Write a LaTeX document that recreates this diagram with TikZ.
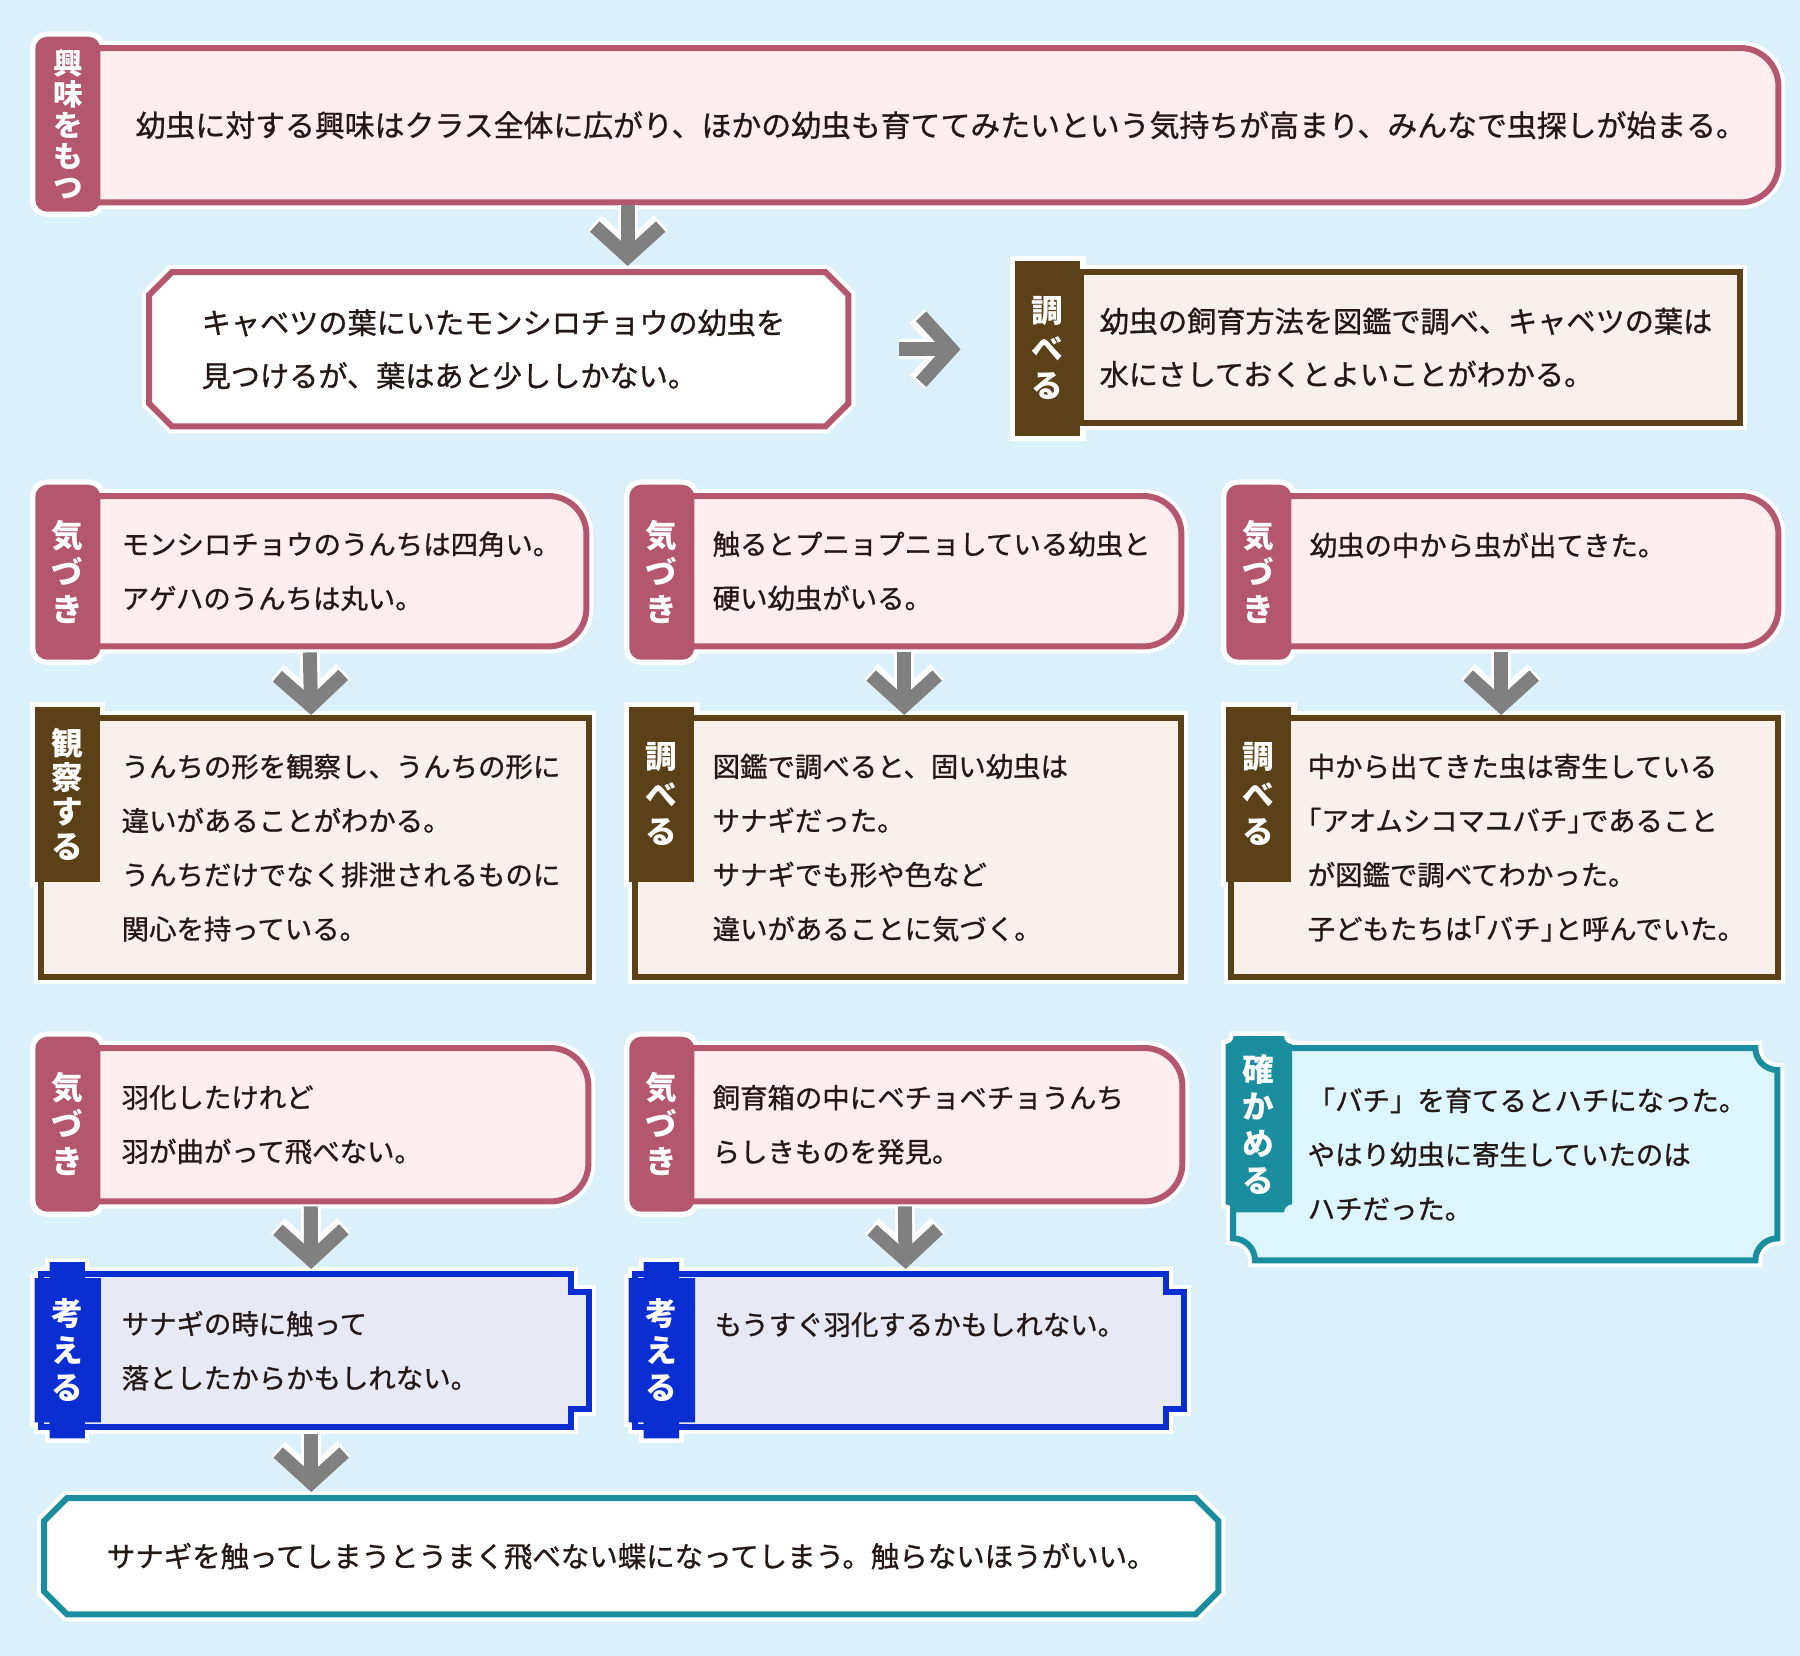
\documentclass[tikz,border=0pt]{standalone}
\usepackage{fontspec}
\setmainfont{Noto Sans CJK JP}[UprightFeatures={FakeBold=0.9}]
\usetikzlibrary{arrows.meta, calc, positioning}

\definecolor{bgblue}{HTML}{DAF0FB}
\definecolor{kpink}{HTML}{B5566F}
\definecolor{kpinkfill}{HTML}{FFEDEF}
\definecolor{kbrown}{HTML}{5C4017}
\definecolor{kbrownfill}{HTML}{F8F1EB}
\definecolor{kblue}{HTML}{0A2ED2}
\definecolor{kbluefill}{HTML}{E7EAF5}
\definecolor{kteal}{HTML}{1A8E9F}
\definecolor{ktealfill}{HTML}{DDF5FC}
\definecolor{arrowgray}{HTML}{808080}
\definecolor{ink}{HTML}{231815}

\pgfdeclarelayer{back}
\pgfdeclarelayer{mid}
\pgfsetlayers{back,mid,main}

% half-width brackets
\newcommand{\hw}[1]{{\addfontfeatures{RawFeature=+halt}#1}}

\tikzset{
  box/.style={anchor=north west, inner ysep=0pt, align=left, text=ink, font=\fontsize{7.8pt}{15.4pt}\selectfont},
  topfont/.style={font=\fontsize{8.3pt}{15.1pt}\selectfont},
  tab/.style={anchor=north east, minimum width=0.65cm, minimum height=1.75cm, inner sep=0pt, align=center, text=white, font=\bfseries\fontsize{9pt}{10.6pt}\selectfont},
  pinktab/.style={tab, fill=kpink, rounded corners=0.12cm},
  browntab/.style={tab, fill=kbrown},
  rim/.style={draw=white, line width=0.09cm},
  frame/.style={line width=0.06cm, line join=miter, preaction={draw=white, line width=0.14cm}},
  pinkframe/.style={frame, draw=kpink, fill=kpinkfill},
  brownframe/.style={frame, draw=kbrown, fill=kbrownfill},
  blueframe/.style={frame, draw=kblue, fill=kbluefill},
  tealframe/.style={frame, draw=kteal, fill=ktealfill},
  bigarrow/.style={draw=arrowgray, line width=0.14cm, -{Straight Barb[sharp, length=0.3cm, width=0.66cm]},
    preaction={draw=white, line width=0.2cm, -{Straight Barb[sharp, length=0.3cm, width=0.66cm]}}}
}

\begin{document}
\begin{tikzpicture}
  \useasboundingbox (0,0) rectangle (18,-16.56);

  % Interest
  \node[box, font=\fontsize{8.5pt}{15pt}\selectfont, minimum width=16.76cm, minimum height=1.53cm, inner xsep=0.34cm, text width=16.08cm] (kyomi) at (1.01,-0.48) {幼虫に対する興味はクラス全体に広がり、ほかの幼虫も育ててみたいという気持ちが高まり、みんなで虫探しが始まる。};
  \node[pinktab, font=\bfseries\fontsize{8.4pt}{8.8pt}\selectfont] (kyomitab) at ([yshift=0.12cm]kyomi.north west) {興\\味\\を\\も\\つ};

  % Found on cabbage
  \node[box, topfont, minimum width=6.98cm, minimum height=1.53cm, inner xsep=0.52cm, text width=5.94cm] (hakken) at (1.49,-2.72) {キャベツの葉にいたモンシロチョウの幼虫を\\見つけるが、葉はあと少ししかない。};

  % Look up breeding
  \node[box, topfont, minimum width=6.58cm, minimum height=1.5cm, inner xsep=0.18cm, text width=6.22cm] (shirabe0) at (10.81,-2.72) {幼虫の飼育方法を図鑑で調べ、キャベツの葉は\\水にさしておくとよいことがわかる。};
  \node[browntab] (shirabe0tab) at ([yshift=0.12cm]shirabe0.north west) {調\\べ\\る};

  % Second row: notices
  \node[box, minimum width=4.84cm, minimum height=1.49cm, inner xsep=0.2cm, text width=4.44cm] (kiduki1) at (1.01,-4.96) {モンシロチョウのうんちは四角い。\\アゲハのうんちは丸い。};
  \node[pinktab] (kiduki1tab) at ([yshift=0.12cm]kiduki1.north west) {気\\づ\\き};
  \node[box, minimum width=4.85cm, minimum height=1.49cm, inner xsep=0.17cm, text width=4.51cm] (kiduki2) at (6.95,-4.96) {触るとプニョプニョしている幼虫と\\硬い幼虫がいる。};
  \node[pinktab] (kiduki2tab) at ([yshift=0.12cm]kiduki2.north west) {気\\づ\\き};
  \node[box, minimum width=4.85cm, minimum height=1.49cm, inner xsep=0.17cm, text width=4.51cm] (kiduki3) at (12.92,-4.96) {幼虫の中から虫が出てきた。\\~};
  \node[pinktab] (kiduki3tab) at ([yshift=0.12cm]kiduki3.north west) {気\\づ\\き};

  % Third row: observe / look up
  \node[box, minimum width=4.87cm, minimum height=2.58cm, inner xsep=0.2cm, text width=4.47cm] (kansatsu) at (1.01,-7.18) {うんちの形を観察し、うんちの形に\\違いがあることがわかる。\\うんちだけでなく排泄されるものに\\関心を持っている。};
  \node[browntab, font=\bfseries\fontsize{9pt}{9.8pt}\selectfont] (kansatsutab) at ([yshift=0.12cm]kansatsu.north west) {観\\察\\す\\る};
  \node[box, minimum width=4.85cm, minimum height=2.58cm, inner xsep=0.17cm, text width=4.51cm] (shirabe1) at (6.95,-7.18) {図鑑で調べると、固い幼虫は\\サナギだった。\\サナギでも形や色など\\違いがあることに気づく。};
  \node[browntab] (shirabe1tab) at ([yshift=0.12cm]shirabe1.north west) {調\\べ\\る};
  \node[box, minimum width=4.85cm, minimum height=2.58cm, inner xsep=0.15cm, text width=4.55cm] (shirabe2) at (12.92,-7.18) {中から出てきた虫は寄生している\\\hw{「}アオムシコマユバチ\hw{」}であること\\が図鑑で調べてわかった。\\子どもたちは\hw{「}バチ\hw{」}と呼んでいた。};
  \node[browntab] (shirabe2tab) at ([yshift=0.12cm]shirabe2.north west) {調\\べ\\る};

  % Fourth row
  \node[box, minimum width=4.86cm, minimum height=1.52cm, inner xsep=0.2cm, text width=4.46cm] (kiduki4) at (1.01,-10.48) {羽化したけれど\\羽が曲がって飛べない。};
  \node[pinktab] (kiduki4tab) at ([yshift=0.12cm]kiduki4.north west) {気\\づ\\き};
  \node[box, minimum width=4.86cm, minimum height=1.52cm, inner xsep=0.17cm, text width=4.52cm] (kiduki5) at (6.95,-10.48) {飼育箱の中にベチョベチョうんち\\らしきものを発見。};
  \node[pinktab] (kiduki5tab) at ([yshift=0.12cm]kiduki5.north west) {気\\づ\\き};
  \node[box, minimum width=4.84cm, minimum height=2.11cm, inner xsep=0.15cm, text width=4.54cm] (tashikame) at (12.92,-10.48) {「バチ」を育てるとハチになった。\\やはり幼虫に寄生していたのは\\ハチだった。};
  \node[tab, font=\bfseries\fontsize{9pt}{10.5pt}\selectfont] (tashikametab) at ([yshift=0.12cm]tashikame.north west) {確\\か\\め\\る};

  % Fifth row: think
  \node[box, minimum width=4.87cm, minimum height=1.52cm, inner xsep=0.2cm, text width=4.47cm] (kangae1) at (1.01,-12.74) {サナギの時に触って\\落としたからかもしれない。};
  \node[tab] (kangae1tab) at ([yshift=0.12cm]kangae1.north west) {考\\え\\る};
  \node[box, minimum width=4.88cm, minimum height=1.52cm, inner xsep=0.19cm, text width=4.5cm] (kangae2) at (6.95,-12.74) {もうすぐ羽化するかもしれない。\\~};
  \node[tab] (kangae2tab) at ([yshift=0.12cm]kangae2.north west) {考\\え\\る};

  % Conclusion
  \node[box, align=center, font=\fontsize{8.1pt}{15pt}\selectfont, minimum width=11.73cm, minimum height=1.15cm, inner xsep=0pt] (matome) at (0.44,-14.98) {サナギを触ってしまうとうまく飛べない蝶になってしまう。触らないほうがいい。};

  % Arrows
  \draw[bigarrow, shorten <=0.03cm, shorten >=0.06cm] ($(hakken.north |- kyomi.south)+(1.29,0)$) -- ($(hakken.north)+(1.29,0)$);
  \draw[bigarrow, shorten <=0.51cm, shorten >=0.54cm] (hakken.east) -- (hakken.east -| shirabe0tab.west);
  \foreach \a/\b in {kiduki1/kansatsu, kiduki2/shirabe1, kiduki3/shirabe2}
    \draw[bigarrow, shorten <=0.06cm, shorten >=0.03cm] ($(\a.south)+(-0.34,0)$) -- ($(\b.north)+(-0.34,0)$);
  \foreach \a/\b in {kiduki4/kangae1, kiduki5/kangae2}
    \draw[bigarrow, shorten <=0.05cm, shorten >=0.05cm] ($(\a.south)+(-0.34,0)$) -- ($(\b.north)+(-0.34,0)$);
  \draw[bigarrow, shorten <=0.07cm, shorten >=0.06cm] ($(kangae1.south)+(-0.34,0)$) -- ($(kangae1.south |- matome.north)+(-0.34,0)$);

  \begin{pgfonlayer}{back}
    % Background
    \fill[bgblue] (0,0) rectangle (18,-16.56);
    % White rims of the tabs
    \foreach \t in {kyomitab, kiduki1tab, kiduki2tab, kiduki3tab, kiduki4tab, kiduki5tab}
      \draw[rim, rounded corners=0.12cm] (\t.north west) rectangle (\t.south east);
    \foreach \t in {shirabe0tab, kansatsutab, shirabe1tab, shirabe2tab}
      \draw[rim] (\t.north west) rectangle (\t.south east);
    \foreach \t in {kangae1tab, kangae2tab}
      \draw[rim] ([xshift=0.15cm]\t.north west) -- ([xshift=-0.16cm]\t.north east) -- ([xshift=-0.16cm,yshift=-0.16cm]\t.north east) -- ([yshift=-0.16cm]\t.north east) -- ([yshift=0.16cm]\t.south east) -- ([xshift=-0.16cm,yshift=0.16cm]\t.south east) -- ([xshift=-0.16cm]\t.south east) -- ([xshift=0.15cm]\t.south west) -- ([xshift=0.15cm,yshift=0.16cm]\t.south west) -- ([yshift=0.16cm]\t.south west) -- ([yshift=-0.16cm]\t.north west) -- ([xshift=0.15cm,yshift=-0.16cm]\t.north west) -- cycle;
    \draw[rim] ([xshift=0.08cm]tashikametab.north west) -- ([xshift=-0.08cm]tashikametab.north east) arc[start angle=180, end angle=270, radius=0.08cm] -- ([yshift=0.08cm]tashikametab.south east) arc[start angle=90, end angle=180, radius=0.08cm] -- ([xshift=0.08cm]tashikametab.south west) arc[start angle=0, end angle=90, radius=0.08cm] -- ([yshift=-0.08cm]tashikametab.north west) arc[start angle=270, end angle=360, radius=0.08cm] -- cycle;

    % Notice frames
    \foreach \n in {kyomi, kiduki1, kiduki2, kiduki3, kiduki4, kiduki5}
      \draw[pinkframe] ([xshift=-0.1cm]\n.north west) -- ([xshift=-0.38cm]\n.north east) arc[start angle=90, end angle=0, radius=0.38cm] -- ([yshift=0.38cm]\n.south east) arc[start angle=0, end angle=-90, radius=0.38cm] -- ([xshift=-0.1cm]\n.south west) -- cycle;
    % Octagon frames
    \foreach \n/\c in {hakken/kpink, matome/kteal}
      \draw[frame, draw=\c, fill=white] ([xshift=0.23cm]\n.north west) -- ([xshift=-0.23cm]\n.north east) -- ([yshift=-0.23cm]\n.north east) -- ([yshift=0.23cm]\n.south east) -- ([xshift=-0.23cm]\n.south east) -- ([xshift=0.23cm]\n.south west) -- ([yshift=0.23cm]\n.south west) -- ([yshift=-0.23cm]\n.north west) -- cycle;
    % Look-up frames
    \foreach \n/\off in {shirabe0/0cm, kansatsu/0.6cm, shirabe1/0.6cm, shirabe2/0.61cm}
      \draw[brownframe] ([xshift=-\off]\n.north west) rectangle (\n.south east);
    % Think frames
    \foreach \n in {kangae1, kangae2}
      \draw[blueframe] ([xshift=-0.6cm]\n.north west) -- ([xshift=-0.18cm]\n.north east) -- ([xshift=-0.18cm,yshift=-0.18cm]\n.north east) -- ([yshift=-0.18cm]\n.north east) -- ([yshift=0.18cm]\n.south east) -- ([xshift=-0.18cm,yshift=0.18cm]\n.south east) -- ([xshift=-0.18cm]\n.south east) -- ([xshift=-0.6cm]\n.south west) -- cycle;
    % Confirm frame
    \draw[tealframe] ([xshift=-0.37cm]tashikame.north west) -- ([xshift=-0.22cm]tashikame.north east) arc[start angle=180, end angle=270, radius=0.22cm] -- ([yshift=0.22cm]tashikame.south east) arc[start angle=90, end angle=180, radius=0.22cm] -- ([xshift=-0.37cm]tashikame.south west) arc[start angle=0, end angle=90, radius=0.22cm] -- ([xshift=-0.59cm,yshift=-0.22cm]tashikame.north west) arc[start angle=270, end angle=360, radius=0.22cm] -- cycle;
  \end{pgfonlayer}

  \begin{pgfonlayer}{mid}
    % Think and confirm tabs
    \foreach \t in {kangae1tab, kangae2tab}
      \fill[kblue] ([xshift=0.15cm]\t.north west) -- ([xshift=-0.16cm]\t.north east) -- ([xshift=-0.16cm,yshift=-0.16cm]\t.north east) -- ([yshift=-0.16cm]\t.north east) -- ([yshift=0.16cm]\t.south east) -- ([xshift=-0.16cm,yshift=0.16cm]\t.south east) -- ([xshift=-0.16cm]\t.south east) -- ([xshift=0.15cm]\t.south west) -- ([xshift=0.15cm,yshift=0.16cm]\t.south west) -- ([yshift=0.16cm]\t.south west) -- ([yshift=-0.16cm]\t.north west) -- ([xshift=0.15cm,yshift=-0.16cm]\t.north west) -- cycle;
    \fill[kteal] ([xshift=0.08cm]tashikametab.north west) -- ([xshift=-0.08cm]tashikametab.north east) arc[start angle=180, end angle=270, radius=0.08cm] -- ([yshift=0.08cm]tashikametab.south east) arc[start angle=90, end angle=180, radius=0.08cm] -- ([xshift=0.08cm]tashikametab.south west) arc[start angle=0, end angle=90, radius=0.08cm] -- ([yshift=-0.08cm]tashikametab.north west) arc[start angle=270, end angle=360, radius=0.08cm] -- cycle;
  \end{pgfonlayer}
\end{tikzpicture}
\end{document}
